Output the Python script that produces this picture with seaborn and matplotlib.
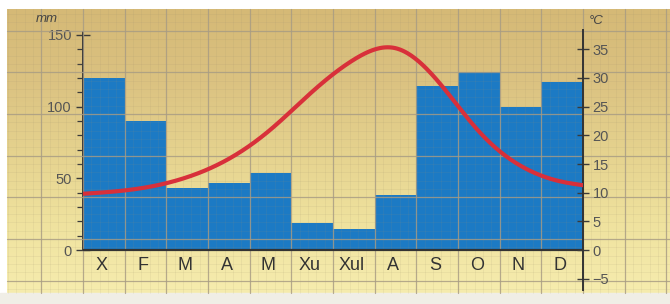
import numpy as np
import pandas as pd
import matplotlib
matplotlib.use("Agg")
import matplotlib.pyplot as plt
from matplotlib.lines import Line2D
from matplotlib.colors import LinearSegmentedColormap
import seaborn as sns

# ---------------- data ----------------
months = ["X", "F", "M", "A", "M", "Xu", "Xul", "A", "S", "O", "N", "D"]
precip_mm = [120, 90, 43.5, 47, 54, 18.5, 14.5, 38.5, 114.5, 124, 100, 117.5]
temp_c = [10.05, 10.9, 12.7, 15.9, 21.0, 27.6, 33.2, 35.2, 29.6, 20.7, 14.7, 11.9]
temp_start = 9.8   # curve value at left edge
temp_end = 11.3    # curve value at right edge
mm_ticks = [0, 50, 100, 150]
c_ticks = [-5, 0, 5, 10, 15, 20, 25, 30, 35]

# ---------------- style ----------------
sns.set_style("ticks")
plt.rcParams["font.family"] = ["Liberation Sans", "DejaVu Sans"]

W, H = 670, 304
fig = plt.figure(figsize=(W / 100, H / 100), dpi=100)
fig.patch.set_facecolor("white")

def fx(x):
    return x / W

def fy(y):
    return 1 - y / H

# background "graph paper"
bg = fig.add_axes([0, 0, 1, 1])
bg.set_xlim(0, W)
bg.set_ylim(H, 0)
bg.axis("off")
cmap = LinearSegmentedColormap.from_list(
    "paper", ["#d5b976", "#dbc281", "#e5d28e", "#efe29e", "#f6ecae"])
grad = np.linspace(0, 1, 256).reshape(-1, 1)
bg.imshow(grad, cmap=cmap, extent=(7, W, 293, 9), aspect="auto", zorder=0)
bg.add_patch(plt.Rectangle((0, 293), W, H - 293, color="#f0eee6", zorder=1))

# main axes
x_left, x_right = 83, 583
y_top, y_bot = 30, 290
y_zero, y_150 = 250, 35
ppm = (y_zero - y_150) / 150.0  # pixels per mm
ax = fig.add_axes([fx(x_left), fy(y_bot), (x_right - x_left) / W, (y_bot - y_top) / H])
ax.patch.set_alpha(0)

df = pd.DataFrame({"m": list(range(12)), "mm": precip_mm})
sns.barplot(data=df, x="m", y="mm", color="#1c7ac4", saturation=1, width=1.0,
            linewidth=0, ax=ax, zorder=1)
ax.set_xlim(-0.5, 11.5)
mm_lo = -(y_bot - y_zero) / ppm
mm_hi = (y_zero - y_top) / ppm
ax.set_ylim(mm_lo, mm_hi)
ax.set_xlabel("")
ax.set_ylabel("")
ax.set_xticks([])
ax.set_yticks(mm_ticks)
ax.set_yticks(np.arange(0, 151, 10), minor=True)
ax.tick_params(axis="y", which="major", direction="inout", length=10, width=1.0,
               color="#3a3a3a", labelcolor="#555555", labelsize=10.5, pad=3)
ax.tick_params(axis="y", which="minor", direction="out", length=4, width=0.9,
               color="#3a3a3a")
for s in ["top", "bottom", "right"]:
    ax.spines[s].set_visible(False)
ax.spines["left"].set_color("#333333")
ax.spines["left"].set_linewidth(1.4)
ax.spines["left"].set_bounds(0, (y_zero - 32) / ppm)
ax.axhline(0, color="#333333", lw=1.6, zorder=5)

# month labels inside the lower band
for i, lab in enumerate(months):
    ax.text(i - 0.05, -(270 - y_zero) / ppm, lab, ha="center", va="baseline",
            fontsize=13, color="#333333", zorder=6)

# graph-paper grid drawn over the bars
step = (x_right - x_left) / 12.0
xs_major = [x_left + step * k for k in range(-2, 15) if 7 <= x_left + step * k <= W]
ys_major = [239 + step * k for k in range(-6, 2) if 9 <= 239 + step * k <= 293]
xs_minor = [x_left + step / 5 * k for k in range(-12, 75) if 7 <= x_left + step / 5 * k <= W]
ys_minor = [239 + step / 5 * k for k in range(-30, 8) if 9 <= 239 + step / 5 * k <= 293]

def add_line(xx, yy, **kw):
    ln = Line2D([fx(v) for v in xx], [fy(v) for v in yy], transform=fig.transFigure, **kw)
    ax.add_artist(ln)
    ln.set_clip_on(False)

for xv in xs_minor:
    add_line([xv, xv], [9, 293], color="#9c8f70", lw=0.5, alpha=0.15, zorder=2)
for yv in ys_minor:
    add_line([7, W], [yv, yv], color="#9c8f70", lw=0.5, alpha=0.15, zorder=2)
for xv in xs_major:
    add_line([xv, xv], [9, 293], color="#a89c84", lw=0.9, alpha=0.8, zorder=3)
for yv in ys_major:
    add_line([7, W], [yv, yv], color="#a89c84", lw=0.9, alpha=0.8, zorder=3)

# temperature axis (°C = mm / 4)
ax2 = ax.twinx()
ax2.set_ylim(mm_lo / 4, mm_hi / 4)
ax2.set_yticks(c_ticks)
ax2.tick_params(axis="y", which="major", direction="inout", length=8, width=1.0,
                color="#3a3a3a", labelcolor="#555555", labelsize=10.5, pad=3)
for s in ["top", "bottom", "left"]:
    ax2.spines[s].set_visible(False)
ax2.spines["right"].set_color("#333333")
ax2.spines["right"].set_linewidth(1.4)

# smooth temperature curve (natural cubic spline through the monthly values)
kx = np.array([-0.5] + list(range(12)) + [11.5], dtype=float)
ky = np.array([temp_start] + temp_c + [temp_end], dtype=float)

def natural_spline(x, y, xs):
    n = len(x)
    h = np.diff(x)
    A = np.zeros((n, n))
    b = np.zeros(n)
    A[0, 0] = 1
    A[-1, -1] = 1
    for i in range(1, n - 1):
        A[i, i - 1] = h[i - 1]
        A[i, i] = 2 * (h[i - 1] + h[i])
        A[i, i + 1] = h[i]
        b[i] = 3 * ((y[i + 1] - y[i]) / h[i] - (y[i] - y[i - 1]) / h[i - 1])
    c = np.linalg.solve(A, b)
    out = np.empty_like(xs)
    for j, xv in enumerate(xs):
        i = min(max(np.searchsorted(x, xv) - 1, 0), n - 2)
        bi = (y[i + 1] - y[i]) / h[i] - h[i] * (2 * c[i] + c[i + 1]) / 3
        di = (c[i + 1] - c[i]) / (3 * h[i])
        t = xv - x[i]
        out[j] = y[i] + bi * t + c[i] * t ** 2 + di * t ** 3
    return out

xd = np.linspace(-0.5, 11.5, 400)
yd = natural_spline(kx, ky, xd)
sns.lineplot(x=xd, y=yd, ax=ax2, color="#d8303a", lw=3.0, zorder=10, sort=False)
ax2.set_xlim(-0.5, 11.5)
ax2.set_ylabel("")

# unit labels
fig.text(fx(47), fy(19), "mm", ha="center", va="center", fontsize=9.5,
         style="italic", color="#444444")
fig.text(fx(596), fy(21), "°C", ha="center", va="center", fontsize=9.5,
         style="italic", color="#444444")

fig.savefig("out.png", dpi=100)
